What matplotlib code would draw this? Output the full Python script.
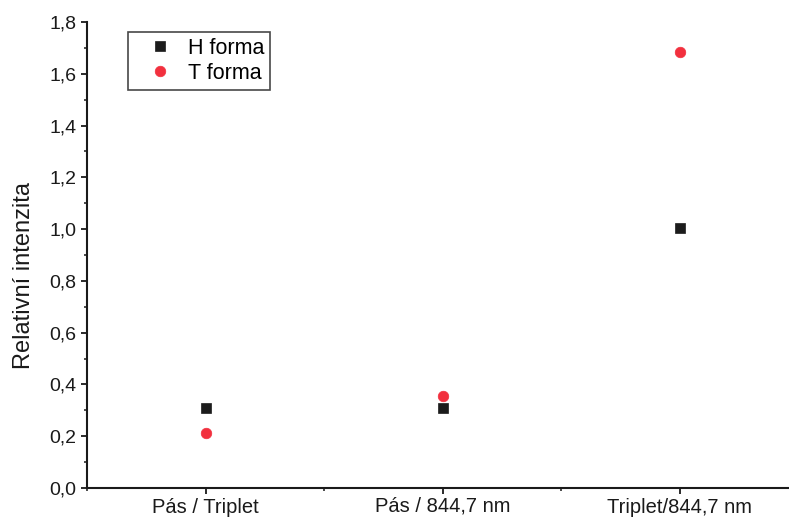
import matplotlib.pyplot as plt
from matplotlib.ticker import MultipleLocator, FuncFormatter
from matplotlib.transforms import ScaledTranslation

categories = ["Pás / Triplet", "Pás / 844,7 nm", "Triplet/844,7 nm"]
h_forma = [0.309, 0.309, 1.004]
t_forma = [0.212, 0.355, 1.684]

plt.rcParams['font.family'] = ['Liberation Sans', 'DejaVu Sans']

fig = plt.figure(figsize=(7.89, 5.21), dpi=100)
# axes run slightly past the right edge of the figure
ax = fig.add_axes([87 / 789, 33 / 521, 711 / 789, 466 / 521])

x = [1, 2, 3]
ax.plot(x, h_forma, 's', color='#1c1c1c', markersize=6.8, markeredgewidth=0.5,
        label='H forma')
ax.plot(x, t_forma, 'o', color='#f2303e', markersize=7.6, markeredgewidth=0.5,
        label='T forma')

ax.set_xlim(0.5, 3.5)
ax.set_ylim(0, 1.8)
ax.set_xticks(x)
ax.set_xticklabels(categories)
ax.xaxis.set_minor_locator(MultipleLocator(0.5))
ax.yaxis.set_major_locator(MultipleLocator(0.2))
ax.yaxis.set_minor_locator(MultipleLocator(0.1))
ax.yaxis.set_major_formatter(FuncFormatter(lambda v, p: f"{v:.1f}".replace('.', ',')))

for side in ('top', 'right'):
    ax.spines[side].set_visible(False)
for side in ('left', 'bottom'):
    ax.spines[side].set_linewidth(1.5)
    ax.spines[side].set_color('#1a1a1a')

ax.tick_params(which='major', direction='out', length=4.5, width=1.3,
               colors='#1a1a1a')
ax.tick_params(which='minor', direction='out', length=2.5, width=1.1, colors='#1a1a1a')
ax.tick_params(axis='x', labelsize=14.5, pad=16.4)
ax.tick_params(axis='y', labelsize=14, pad=3)
for lbl in ax.get_xticklabels():
    lbl.set_verticalalignment('bottom')
    # label without a descender letter sits lower, nudge it back up
    if not any(c in lbl.get_text() for c in 'gjpqy'):
        lbl.set_transform(lbl.get_transform()
                          + ScaledTranslation(0, 1.5 / 100, fig.dpi_scale_trans))

ax.set_ylabel('Relativní intenzita', fontsize=17, color='#1a1a1a')
ax.yaxis.set_label_coords(-0.073, 0.457)

leg = ax.legend(loc='upper left', bbox_to_anchor=(128 / 789, 1 - 32 / 521),
                bbox_transform=fig.transFigure, borderaxespad=0, fontsize=15.5,
                frameon=True, fancybox=False, edgecolor='#1a1a1a',
                handletextpad=0.1, borderpad=0.27, labelspacing=0.18,
                handlelength=2.42)
leg.get_frame().set_linewidth(1.2)

fig.savefig('out.png', dpi=100)
